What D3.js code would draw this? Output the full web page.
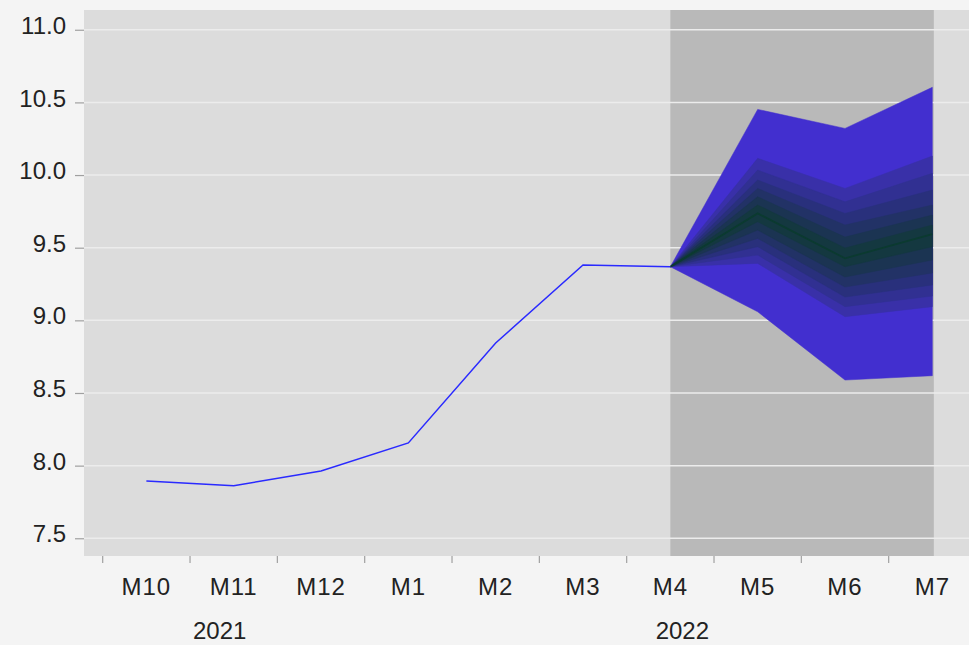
<!DOCTYPE html>
<html>
<head>
<meta charset="utf-8">
<script src="https://cdn.jsdelivr.net/npm/d3@7"></script>
<style>
  html, body { margin: 0; padding: 0; background: #f4f4f4; }
  svg { display: block; }
  text { font-family: "Liberation Sans", Arial, sans-serif; fill: #222; }
</style>
</head>
<body>
<svg id="chart" width="969" height="645"></svg>
<script>
// ---- data ----
const categories = ["M10", "M11", "M12", "M1", "M2", "M3", "M4", "M5", "M6", "M7"];
const yearLabels = ["2021", "2022"];
const yTicks = [7.5, 8.0, 8.5, 9.0, 9.5, 10.0, 10.5, 11.0];

const actualMonths = ["M10", "M11", "M12", "M1", "M2", "M3", "M4"];
const actualValues = [7.894, 7.862, 7.963, 8.156, 8.844, 9.381, 9.369];

const fanMonths = ["M4", "M5", "M6", "M7"];
const fanMedian = [9.369, 9.736, 9.427, 9.594];
// upper band edges, outermost first
const fanUpper = [
  [9.369, 10.452, 10.321, 10.604],
  [9.369, 10.115, 9.908, 10.131],
  [9.369, 10.034, 9.816, 10.012],
  [9.369, 9.966, 9.736, 9.897],
  [9.369, 9.908, 9.656, 9.794],
  [9.369, 9.851, 9.573, 9.725],
  [9.369, 9.794, 9.498, 9.656]
];
// lower band edges, outermost first
const fanLower = [
  [9.369, 9.059, 8.589, 8.619],
  [9.369, 9.392, 9.025, 9.094],
  [9.369, 9.449, 9.094, 9.167],
  [9.369, 9.507, 9.160, 9.243],
  [9.369, 9.564, 9.229, 9.326],
  [9.369, 9.621, 9.298, 9.415],
  [9.369, 9.679, 9.369, 9.507]
];

// ---- layout ----
const svg = d3.select("#chart");
const W = 969, H = 645;
const plot = { left: 84, top: 10, right: 969, bottom: 556 };

const x = d3.scaleBand().domain(categories).range([102.7, 976]).paddingInner(0).paddingOuter(0);
const cx = d => x(d) + x.bandwidth() / 2;
const y = d3.scaleLinear().domain([7.378, 11.136]).range([plot.bottom, plot.top]);

// background
svg.append("rect").attr("x", 0).attr("y", 0).attr("width", W).attr("height", H).attr("fill", "#f4f4f4");
svg.append("rect").attr("x", plot.left).attr("y", plot.top)
  .attr("width", plot.right - plot.left).attr("height", plot.bottom - plot.top).attr("fill", "#dcdcdc");

// forecast shading
svg.append("rect")
  .attr("x", cx(fanMonths[0])).attr("y", plot.top)
  .attr("width", cx(fanMonths[fanMonths.length - 1]) - cx(fanMonths[0]) + 1.5)
  .attr("height", plot.bottom - plot.top).attr("fill", "#b9b9b9");

// gridlines
svg.append("g").selectAll("line").data(yTicks).join("line")
  .attr("x1", plot.left).attr("x2", plot.right)
  .attr("y1", d => y(d)).attr("y2", d => y(d))
  .attr("stroke", "#ececec").attr("stroke-width", 1.5);

// y axis
const yAxis = d3.axisLeft(y).tickValues(yTicks).tickFormat(d3.format(".1f")).tickSize(9).tickPadding(9);
const gy = svg.append("g").attr("transform", `translate(${plot.left},0)`).call(yAxis);
gy.select(".domain").remove();
gy.selectAll(".tick line").attr("stroke", "#a0a0a0").attr("stroke-width", 1.2);
gy.selectAll(".tick text").attr("font-size", 24).attr("dy", "0.15em")
  .style("font-family", "'Liberation Sans', Arial, sans-serif").attr("fill", "#222");

// x axis: ticks at band boundaries
const bounds = categories.map(c => x(c));
svg.append("g").selectAll("line").data(bounds).join("line")
  .attr("x1", d => d).attr("x2", d => d)
  .attr("y1", plot.bottom).attr("y2", plot.bottom + 7)
  .attr("stroke", "#a0a0a0").attr("stroke-width", 1.2);
svg.append("g").selectAll("text").data(categories).join("text")
  .attr("x", d => cx(d)).attr("y", 595)
  .attr("text-anchor", "middle").attr("font-size", 24)
  .style("letter-spacing", "1px")
  .text(d => d);
svg.append("g").selectAll("text").data(yearLabels).join("text")
  .attr("x", (d, i) => i === 0 ? cx("M11") - 14 : cx("M4") + 12)
  .attr("y", 639)
  .attr("text-anchor", "middle").attr("font-size", 24)
  .text(d => d);

// fan
const bandColors = ["#422fcf", "#3930a8", "#313092", "#29307c", "#223266", "#1b3452", "#143840"];
const fanG = svg.append("g");
fanUpper.forEach((up, k) => {
  const lo = fanLower[k];
  const pts = fanMonths.map((m, i) => ({ x: cx(m), hi: up[i], lo: lo[i] }));
  const area = d3.area().x(d => d.x).y0(d => y(d.lo)).y1(d => y(d.hi));
  fanG.append("path").datum(pts).attr("d", area).attr("fill", bandColors[k])
    .attr("stroke", bandColors[k]).attr("stroke-width", 0.5);
});
const medLine = d3.line().x((d, i) => cx(fanMonths[i])).y(d => y(d));
fanG.append("path").datum(fanMedian).attr("d", medLine)
  .attr("fill", "none").attr("stroke", "#0b3a30").attr("stroke-width", 1.8);

// actual line
const actLine = d3.line().x((d, i) => cx(actualMonths[i])).y(d => y(d));
svg.append("path").datum(actualValues).attr("d", actLine)
  .attr("fill", "none").attr("stroke", "#2a2aff").attr("stroke-width", 1.5);
</script>
</body>
</html>
